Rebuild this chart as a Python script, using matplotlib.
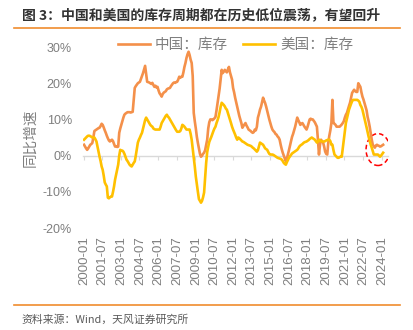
import matplotlib
matplotlib.use("Agg")
import matplotlib.pyplot as plt
from matplotlib.patches import Ellipse
import numpy as np
import pandas as pd

# monthly YoY inventory growth (%), 2000-01 .. 2024-02
china = [
    3.0, 2.5, 2.0, 1.6, 2.0, 2.5, 3.0, 3.2, 3.5, 5.0, 6.8, 7.0,          # 2000
    7.2, 7.4, 7.6, 7.7, 8.2, 8.8, 8.5, 7.8, 7.0, 6.3, 5.5, 4.8,          # 2001
    4.2, 3.9, 4.2, 4.4, 4.0, 3.2, 2.5, 2.6, 2.4, 2.5, 6.3, 7.5,          # 2002
    8.5, 9.5, 10.5, 11.3, 11.6, 11.8, 12.0, 12.0, 12.0, 11.9, 12.0, 12.1,  # 2003
    15.5, 18.7, 19.2, 19.6, 20.0, 20.2, 20.4, 21.2, 22.0, 22.8, 23.8, 24.8,  # 2004
    22.5, 20.4, 20.3, 20.2, 20.0, 19.8, 20.1, 19.5, 19.0, 19.3, 18.8, 19.0,  # 2005
    18.0, 17.2, 16.8, 16.3, 17.0, 17.4, 17.6, 17.8, 18.3, 18.5, 18.6, 18.7,  # 2006
    19.2, 19.6, 20.0, 20.2, 20.1, 20.3, 20.4, 21.0, 21.8, 21.5, 21.8, 21.8,  # 2007
    23.0, 24.5, 25.6, 27.0, 28.0, 28.7, 27.8, 26.5, 25.6, 22.0, 11.8, 9.5,   # 2008
    7.5, 5.2, 3.5, 2.0, 0.5, -0.3, 0.0, 0.5, 0.8, 1.5, 3.0, 4.4,         # 2009
    7.5, 9.2, 10.0, 10.0, 9.8, 10.0, 10.3, 10.7, 12.5, 14.5, 16.3, 18.5,  # 2010
    21.0, 23.7, 22.8, 23.2, 23.7, 23.3, 23.0, 23.8, 24.5, 23.0, 22.0, 21.0,  # 2011
    18.7, 17.5, 16.0, 14.8, 13.5, 12.2, 11.0, 10.0, 9.0, 7.7, 8.2, 8.6,  # 2012
    9.0, 8.3, 7.8, 7.2, 7.0, 6.8, 6.5, 6.3, 6.5, 7.2, 7.0, 8.0,          # 2013
    10.5, 11.5, 12.7, 13.5, 14.8, 16.0, 15.2, 14.5, 13.5, 12.3, 11.0, 10.0,  # 2014
    9.0, 8.0, 7.2, 6.8, 6.5, 6.0, 5.8, 5.3, 5.0, 4.4, 3.0, 1.8,          # 2015
    0.8, 0.0, -0.8, -1.6, -0.8, 0.3, 1.5, 2.8, 4.0, 5.2, 6.0, 7.0,       # 2016
    8.0, 9.2, 10.5, 9.8, 9.2, 8.5, 8.8, 9.0, 8.5, 8.0, 7.6, 7.2,         # 2017
    8.0, 9.0, 10.0, 10.2, 10.0, 10.0, 9.6, 9.2, 8.6, 8.0, 4.4, 0.3,      # 2018
    3.0, 4.4, 4.0, 3.6, 2.5, 1.1, 0.5, 0.3, 3.6, 5.5, 7.0, 9.0,          # 2019
    15.4, 9.0, 8.8, 8.5, 8.0, 8.0, 8.0, 8.0, 8.3, 8.6, 9.0, 9.5,         # 2020
    10.5, 11.3, 11.8, 12.8, 13.7, 14.6, 16.0, 17.3, 17.8, 18.2, 17.8, 17.6,  # 2021
    17.6, 20.0, 19.5, 19.0, 17.5, 16.3, 15.5, 14.5, 13.5, 12.5, 10.7, 9.5,   # 2022
    8.0, 6.2, 4.4, 3.0, 2.6, 2.2, 2.8, 3.0, 2.8, 2.7, 2.5, 2.6,          # 2023
    2.8, 3.0,                                                            # 2024
]
usa = [
    4.4, 4.7, 5.0, 5.3, 5.5, 5.5, 5.4, 5.2, 5.0, 5.0, 5.0, 4.5,          # 2000
    3.9, 2.5, 1.0, -0.3, -1.5, -3.0, -3.9, -5.5, -7.4, -8.0, -8.5, -11.6,  # 2001
    -11.8, -11.5, -11.3, -11.3, -10.0, -8.5, -6.6, -5.2, -3.8, -2.5, 0.0, 1.6,  # 2002
    1.4, 1.4, 1.1, 0.5, -0.3, -1.1, -1.5, -2.0, -2.5, -2.8, -3.0, -2.5,  # 2003
    -2.0, -1.6, 0.0, 1.8, 3.6, 4.4, 5.0, 5.7, 6.3, 7.5, 8.7, 9.8,        # 2004
    10.5, 10.0, 9.5, 9.0, 8.5, 8.2, 8.0, 7.5, 7.3, 7.2, 7.2, 7.2,        # 2005
    7.2, 7.2, 8.0, 9.0, 9.5, 10.0, 10.5, 11.0, 11.3, 10.8, 10.5, 10.0,   # 2006
    9.5, 9.0, 8.5, 8.0, 7.5, 7.0, 6.6, 6.6, 6.6, 6.8, 7.5, 8.5,          # 2007
    8.3, 8.0, 7.6, 7.2, 7.2, 7.2, 7.2, 6.0, 4.4, 2.0, -0.3, -3.0,        # 2008
    -5.8, -8.0, -10.0, -12.0, -12.5, -13.0, -12.5, -11.5, -10.2, -6.0, -2.0, 1.0,  # 2009
    2.5, 3.8, 4.5, 5.2, 6.0, 6.8, 7.5, 8.0, 9.0, 9.8, 10.7, 12.0,        # 2010
    13.5, 14.6, 14.3, 14.0, 13.6, 13.0, 12.7, 11.8, 10.9, 10.0, 9.0, 8.0,  # 2011
    7.2, 6.5, 5.8, 5.0, 4.4, 5.0, 4.8, 4.5, 4.2, 3.9, 3.8, 3.6,          # 2012
    3.4, 3.2, 3.0, 2.9, 2.8, 2.7, 2.5, 2.2, 2.0, 1.7, 1.4, 1.1,          # 2013
    1.5, 2.5, 3.6, 3.4, 3.2, 3.0, 2.5, 2.0, 1.8, 1.6, 1.0, 0.5,          # 2014
    0.3, 0.3, 0.3, 0.2, 0.0, -0.2, -0.4, -0.6, -0.7, -0.8, -0.9, -1.1,   # 2015
    -1.5, -2.0, -2.3, -2.5, -1.8, -1.2, -0.6, -0.2, 0.2, 0.6, 0.8, 1.0,  # 2016
    1.2, 1.4, 1.6, 2.0, 2.5, 2.8, 3.0, 3.2, 3.5, 3.7, 3.8, 3.9,          # 2017
    4.1, 4.3, 4.6, 4.8, 5.0, 4.8, 4.6, 4.4, 4.0, 3.6, 3.8, 4.4,          # 2018
    4.2, 4.0, 3.9, 3.9, 3.9, 4.0, 4.2, 4.3, 4.4, 4.4, 4.0, 3.0,          # 2019
    3.0, 1.5, 0.3, 0.0, -0.3, -0.6, -0.6, -0.4, -0.3, -0.3, 2.0, 4.4,    # 2020
    6.5, 9.0, 10.2, 11.5, 12.7, 13.5, 14.3, 15.0, 15.4, 15.4, 15.4, 15.4,  # 2021
    15.4, 15.2, 14.9, 14.0, 13.5, 12.7, 11.5, 10.2, 9.0, 7.8, 6.5, 5.2,  # 2022
    4.2, 3.0, 2.2, 1.2, 0.3, 0.3, 0.3, 0.3, 0.3, 0.0, -0.3, 0.0,         # 2023
    0.4, 0.8,                                                            # 2024
]
months = pd.date_range("2000-01-01", periods=len(china), freq="MS").strftime("%Y-%m").tolist()
yticks = [-20, -10, 0, 10, 20, 30]

cn_font = ["Noto Sans CJK SC", "DejaVu Sans"]
lat_font = ["Liberation Sans", "Noto Sans CJK SC"]
gray = "#7f7f7f"
orange = "#F4904A"
yellow = "#FFC000"

fig = plt.figure(figsize=(4.14, 3.30), dpi=100)
ax = fig.add_axes([0.2005, 0.309, 0.7367, 0.5485])

x = np.arange(len(china))
ax.plot(x, china, color=orange, lw=1.9, label="中国：库存", solid_joinstyle="round")
ax.plot(x, usa, color=yellow, lw=1.9, label="美国：库存", solid_joinstyle="round")

ax.set_xlim(-1, 293.7)
ax.set_ylim(-20, 30)
ax.set_yticks(yticks)
ax.set_yticklabels(["%d%%" % v for v in yticks], family=lat_font, fontsize=9, color=gray)
ax.set_xticks(x[::18])
ax.set_xticklabels(months[::18], rotation=90, family=lat_font, fontsize=9.5, color=gray)
ax.tick_params(axis="both", length=0)
ax.tick_params(axis="y", pad=8)
ax.tick_params(axis="x", pad=6)
for s in ax.spines.values():
    s.set_visible(False)

# zero line with small category ticks
sec = ax.secondary_xaxis(0.4)
sec.set_xticks(np.arange(-0.5, len(china), 18))
sec.tick_params(length=3, color="#d9d9d9", labelbottom=False)
sec.spines["bottom"].set_color("#d9d9d9")
sec.spines["bottom"].set_linewidth(1.0)

ax.set_ylabel("同比增速", family=cn_font, fontsize=10.5, color=gray, labelpad=4)

leg = ax.legend(loc="center", bbox_to_anchor=(0.5, 1.01), ncol=2, frameon=False,
                prop={"family": cn_font, "size": 10.5}, handlelength=2.2,
                handletextpad=0.35, columnspacing=1.0, labelcolor=gray)

# red dashed circle around the latest readings
cx = len(china) - 6
cy = (np.mean(china[-12:]) + np.mean(usa[-12:])) / 2
ax.add_patch(Ellipse((cx, cy), 23, 8.8, fill=False, ec="#FF0000", lw=1.1, ls=(0, (3, 2))))

fig.text(0.053, 0.955, "图 3：中国和美国的库存周期都在历史低位震荡，有望回升",
         family=cn_font, fontsize=10, fontweight="bold", color="#333333", va="center")
fig.add_artist(plt.Line2D([0.034, 0.966], [0.914, 0.914], color="#F08C2E", lw=1.2))
fig.add_artist(plt.Line2D([0.034, 0.966], [0.076, 0.076], color="#F08C2E", lw=1.2))
fig.text(0.053, 0.033, "资料来源：Wind，天风证券研究所", family=cn_font, fontsize=7.8,
         color="#595959", va="center")

fig.savefig("out.png", dpi=100)
